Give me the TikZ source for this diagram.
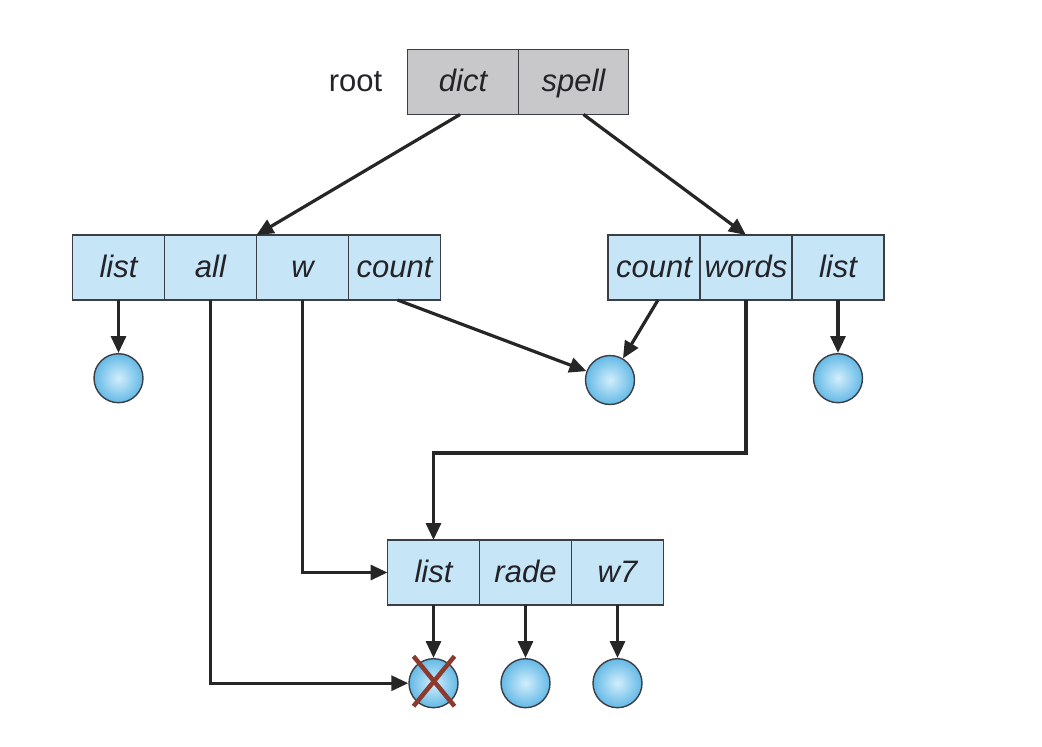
\documentclass[tikz,border=0pt]{standalone}
\usepackage{fontspec}
\setmainfont{Liberation Sans}
\usetikzlibrary{positioning,arrows.meta}
\definecolor{cellblue}{RGB}{198,230,248}
\definecolor{rootgrey}{RGB}{200,200,202}
\definecolor{edgegrey}{RGB}{60,62,70}
\definecolor{textgrey}{RGB}{35,35,40}
\definecolor{ballin}{RGB}{210,238,252}
\definecolor{ballout}{RGB}{100,185,230}
\definecolor{crossred}{RGB}{140,58,46}
\tikzset{
  cell/.style={draw=edgegrey, line width=1.4pt, fill=cellblue, minimum width=92pt,
    minimum height=65pt, inner sep=0pt, outer sep=0pt, text=textgrey,
    text height=22pt, text depth=3pt,
    font=\fontsize{31}{36}\selectfont\itshape},
  rootcell/.style={cell, fill=rootgrey, minimum width=110.5pt},
  leaf/.style={circle, draw=edgegrey, line width=1.4pt, minimum size=49pt, inner sep=0pt,
    shading=radial, inner color=ballin, outer color=ballout},
  ptr/.style={line width=3.2pt, black!85, -{Triangle[length=17pt,width=15pt]}},
  xmark/.style={line width=4.5pt, crossred}
}
\begin{document}
\begin{tikzpicture}[x=1pt, y=-1pt]
  \useasboundingbox (0,0) rectangle (1042,747);
  % directory blocks
  \node[rootcell] (dict) at (463,82) {dict};
  \node[rootcell, right=0pt of dict] (spell) {spell};
  \node[left=22pt of dict, text=textgrey, text height=22pt, text depth=3pt,
    font=\fontsize{31}{36}\selectfont] (rootlbl) {root};

  \node[cell] (llist) at (118.5,267.5) {list};
  \node[cell, right=0pt of llist] (lall) {all};
  \node[cell, right=0pt of lall] (lw) {w};
  \node[cell, right=0pt of lw] (lcount) {count};

  \node[cell] (rcount) at (654,267.5) {count};
  \node[cell, right=0pt of rcount] (rwords) {words};
  \node[cell, right=0pt of rwords] (rlist) {list};

  \node[cell] (blist) at (433.5,572.5) {list};
  \node[cell, right=0pt of blist] (brade) {rade};
  \node[cell, right=0pt of brade] (bw7) {w7};

  % files
  \node[leaf, below=53pt of llist] (c1) {};
  \node[leaf] (c2) at (610,380) {};
  \node[leaf, below=53pt of rlist] (c3) {};
  \node[leaf, below=53pt of blist] (c4) {};
  \node[leaf, below=53pt of brade] (c5) {};
  \node[leaf, below=53pt of bw7] (c6) {};
  \coordinate (turn) at (0,453);

  \draw[ptr] ([xshift=-3pt]dict.south) -- (lw.north west);
  \draw[ptr] ([xshift=10pt]spell.south) -- (rwords.north);
  \foreach \source/\dest in {llist/c1, rlist/c3, blist/c4, brade/c5, bw7/c6}
    \draw[ptr] (\source.south) -- (\dest.north);
  \draw[ptr] ([xshift=3pt]lcount.south) -- (c2);
  \draw[ptr] ([xshift=4pt]rcount.south) -- (c2);
  \draw[ptr] (lall.south) |- (c4.west);
  \draw[ptr] (lw.south) |- (blist.west);
  \draw[ptr] (rwords.south) -- (rwords.south |- turn) -| (blist.north);

  % deleted file
  \draw[xmark] (c4.center) +(-20,-27) -- +(21,23);
  \draw[xmark] (c4.center) +(21,-27) -- +(-20,23);
\end{tikzpicture}
\end{document}
